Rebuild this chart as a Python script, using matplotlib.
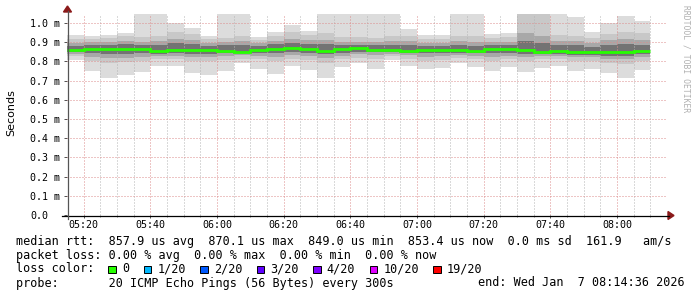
import matplotlib
matplotlib.use("Agg")
import matplotlib.pyplot as plt
from matplotlib.lines import Line2D
from matplotlib.patches import Polygon, Rectangle
import numpy as np

W, H = 697, 297

# 5-minute intervals starting 05:15, values in ms
step_min = 5
median = [0.860, 0.867, 0.867, 0.867, 0.867, 0.853, 0.858, 0.858, 0.857, 0.855,
          0.851, 0.857, 0.863, 0.870, 0.863, 0.855, 0.863, 0.869, 0.862, 0.857,
          0.855, 0.857, 0.858, 0.857, 0.853, 0.863, 0.863, 0.858, 0.851, 0.853,
          0.849, 0.849, 0.849, 0.849, 0.853]
ping_max = [0.939, 0.932, 0.939, 0.949, 1.10, 1.10, 0.998, 0.974, 0.934, 1.10,
            1.10, 0.927, 0.953, 0.991, 0.958, 1.10, 1.10, 1.10, 1.10, 1.10,
            0.969, 0.936, 0.936, 1.10, 1.10, 0.944, 0.949, 1.10, 1.10, 1.10,
            1.033, 0.953, 0.998, 1.039, 1.010]
ping_min = [0.807, 0.752, 0.715, 0.731, 0.746, 0.778, 0.778, 0.741, 0.731, 0.752,
            0.790, 0.762, 0.736, 0.778, 0.755, 0.715, 0.772, 0.790, 0.762, 0.807,
            0.776, 0.760, 0.767, 0.793, 0.772, 0.750, 0.772, 0.746, 0.767, 0.778,
            0.752, 0.760, 0.741, 0.715, 0.755]
hi2 = [0.915, 0.915, 0.92, 0.93, 0.925, 0.93, 0.955, 0.945, 0.915, 0.92,
       0.93, 0.91, 0.935, 0.955, 0.94, 0.95, 0.925, 0.925, 0.92, 0.93,
       0.935, 0.915, 0.915, 0.935, 0.93, 0.92, 0.925, 1.10, 1.10, 0.94,
       0.935, 0.92, 0.945, 0.955, 0.95]
lo2 = [0.83, 0.80, 0.79, 0.795, 0.80, 0.815, 0.81, 0.80, 0.80, 0.805,
       0.815, 0.81, 0.80, 0.81, 0.805, 0.79, 0.81, 0.82, 0.81, 0.83,
       0.815, 0.80, 0.805, 0.82, 0.81, 0.80, 0.81, 0.80, 0.81, 0.81,
       0.80, 0.80, 0.79, 0.785, 0.80]
hi3 = [0.895, 0.90, 0.90, 0.905, 0.90, 0.905, 0.915, 0.91, 0.895, 0.90,
       0.905, 0.895, 0.905, 0.915, 0.91, 0.91, 0.90, 0.90, 0.90, 0.905,
       0.905, 0.895, 0.895, 0.905, 0.90, 0.90, 0.90, 0.95, 0.93, 0.905,
       0.905, 0.895, 0.91, 0.915, 0.91]
lo3 = [0.84, 0.825, 0.82, 0.82, 0.825, 0.83, 0.83, 0.825, 0.825, 0.83,
       0.835, 0.83, 0.825, 0.835, 0.83, 0.82, 0.83, 0.84, 0.835, 0.84,
       0.835, 0.825, 0.83, 0.835, 0.83, 0.825, 0.83, 0.825, 0.83, 0.83,
       0.825, 0.825, 0.815, 0.81, 0.825]
hi4 = [0.88, 0.885, 0.885, 0.89, 0.885, 0.885, 0.895, 0.89, 0.88, 0.885,
       0.885, 0.88, 0.89, 0.895, 0.89, 0.89, 0.885, 0.885, 0.885, 0.885,
       0.885, 0.88, 0.88, 0.885, 0.88, 0.885, 0.885, 0.905, 0.895, 0.885,
       0.885, 0.875, 0.885, 0.89, 0.885]
lo4 = [0.848, 0.845, 0.84, 0.84, 0.845, 0.84, 0.843, 0.84, 0.84, 0.842,
       0.842, 0.842, 0.845, 0.85, 0.845, 0.84, 0.845, 0.85, 0.848, 0.848,
       0.845, 0.843, 0.845, 0.845, 0.842, 0.845, 0.845, 0.84, 0.84, 0.84,
       0.835, 0.835, 0.83, 0.83, 0.84]

xtick_labels = ["05:20", "05:40", "06:00", "06:20", "06:40", "07:00", "07:20", "07:40", "08:00"]
xtick_pos = [5, 25, 45, 65, 85, 105, 125, 145, 165]   # minutes after 05:15
ytick_vals = [0.0, 0.1, 0.2, 0.3, 0.4, 0.5, 0.6, 0.7, 0.8, 0.9, 1.0]
ytick_labels = ["0.0"] + ["%.1f m" % v for v in ytick_vals[1:]]

loss_labels = ["0", "1/20", "2/20", "3/20", "4/20", "10/20", "19/20"]
loss_colors = ["#26ff00", "#00b8ff", "#0059ff", "#5e00ff", "#7e00ff", "#dd00ff", "#ff0000"]

legend_lines = [
    "median rtt:  857.9 us avg  870.1 us max  849.0 us min  853.4 us now  0.0 ms sd  161.9   am/s",
    "packet loss: 0.00 % avg  0.00 % max  0.00 % min  0.00 % now",
    None,
    "probe:       20 ICMP Echo Pings (56 Bytes) every 300s",
]
end_text = "end: Wed Jan  7 08:14:36 2026"


def fx(x):
    return x / W


def fy(y):
    return 1 - y / H


fig = plt.figure(figsize=(W / 100, H / 100), dpi=100)
fig.patch.set_facecolor("white")
ax = fig.add_axes([fx(67), fy(215), 600 / W, 201 / H])
ax.set_xlim(0, 180)
ax.set_ylim(0, 1.047)

n = len(median)
starts = np.arange(n) * step_min
bands = [(ping_min, ping_max, "#dcdcdc"), (lo2, hi2, "#c8c8c8"),
         (lo3, hi3, "#a8a8a8"), (lo4, hi4, "#737373")]
for lo, hi, col in bands:
    lo = np.array(lo)
    hi = np.array(hi)
    ax.bar(starts, hi - lo, bottom=lo, width=step_min, align="edge",
           color=col, linewidth=0, zorder=1)

edges = np.append(starts, starts[-1] + step_min)
ax.stairs(median, edges, baseline=None, color="#26ff00", linewidth=2.0, zorder=4)

# grid, dotted like rrdtool
dots = (0, (1, 2))
for m in range(5, 180, 5):
    major = m in xtick_pos
    ax.axvline(m, color="#dd8c8c" if major else "#b4b4b4", lw=0.72,
               ls=dots, zorder=2)
for v in ytick_vals[1:]:
    ax.axhline(v, color="#dd8c8c", lw=0.72, ls=dots, zorder=2)

for s in ax.spines.values():
    s.set_visible(False)
ax.set_xticks(xtick_pos)
ax.set_xticklabels(xtick_labels, family="DejaVu Sans Mono", fontsize=7.2)
ax.set_xticks(range(5, 180, 5), minor=True)
ax.tick_params(axis="x", which="major", length=2.2, width=0.72, color="#555555", pad=1.5)
ax.tick_params(axis="x", which="minor", length=1.5, width=0.72, color="#888888")
ax.set_yticks(ytick_vals)
ax.set_yticklabels(ytick_labels, family="DejaVu Sans Mono", fontsize=7.2)
ax.tick_params(axis="y", length=2.2, width=0.72, color="#555555", pad=24.5)
for t in ax.get_yticklabels():
    t.set_horizontalalignment("left")

# axes lines and arrows
fig.add_artist(Line2D([fx(62), fx(669)], [fy(215.5), fy(215.5)], color="black", lw=0.9))
fig.add_artist(Line2D([fx(67.5), fx(67.5)], [fy(219), fy(11)], color="#555555", lw=0.9))
fig.add_artist(Polygon([[fx(668), fy(211.5)], [fx(674), fy(215.5)], [fx(668), fy(219.5)]],
                       closed=True, color="#8b1a1a"))
fig.add_artist(Polygon([[fx(63.5), fy(12)], [fx(67.5), fy(6)], [fx(71.5), fy(12)]],
                       closed=True, color="#8b1a1a"))

fig.text(fx(11), fy(113), "Seconds", rotation=90, ha="center", va="center",
         fontsize=8, family="DejaVu Sans")
fig.text(fx(686), fy(5), "RRDTOOL / TOBI OETIKER", rotation=-90, ha="center", va="top",
         fontsize=5.8, family="DejaVu Sans Mono", color="#b0b0b0")

# legend
fs = 8.45
cw = 0.602 * fs * 100 / 72
x0 = 16
row_y = [241, 255, 269, 283]
for line, y in zip(legend_lines, row_y):
    if line is not None:
        fig.text(fx(x0), fy(y), line, family="DejaVu Sans Mono", fontsize=fs,
                 ha="left", va="center")
fig.text(fx(478), fy(283), end_text, family="DejaVu Sans Mono", fontsize=fs,
         ha="left", va="center")

loss_line = "loss color:  "
col = len(loss_line)
fig.text(fx(x0), fy(269), loss_line, family="DejaVu Sans Mono", fontsize=fs,
         ha="left", va="center")
for lab, c in zip(loss_labels, loss_colors):
    bx = x0 + col * cw + 0.5
    fig.add_artist(Rectangle((fx(bx), fy(273)), 7.5 / W, 7.5 / H, facecolor=c,
                             edgecolor="black", lw=0.7))
    fig.text(fx(x0 + (col + 2) * cw), fy(269), lab, family="DejaVu Sans Mono",
             fontsize=fs, ha="left", va="center")
    col += 2 + len(lab) + 2

fig.savefig("out.png", dpi=100)
